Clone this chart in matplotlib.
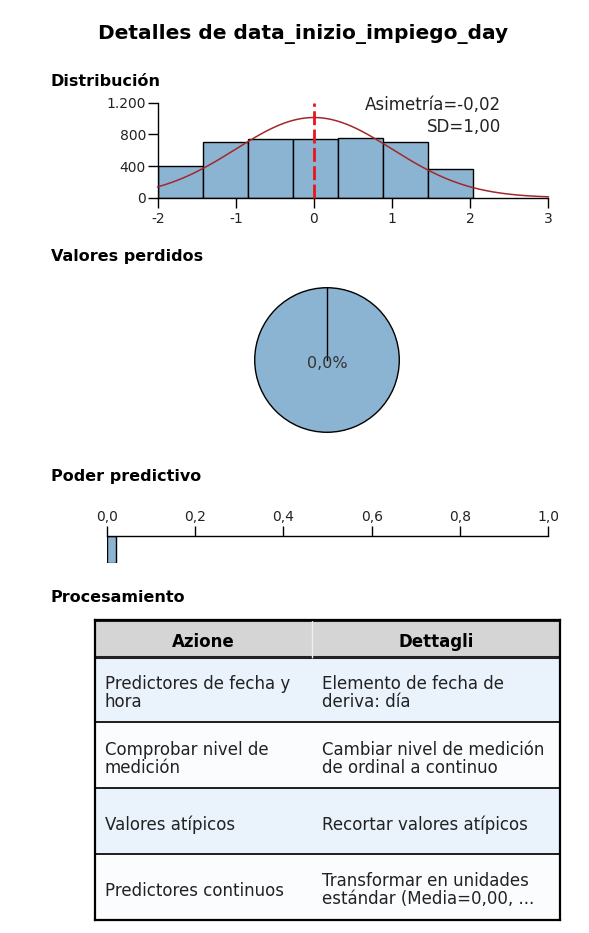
import numpy as np
import matplotlib
matplotlib.use("Agg")
import matplotlib.pyplot as plt
from matplotlib.transforms import Affine2D

# ---------------- data ----------------
title = "Detalles de data_inizio_impiego_day"

bin_edges = [-2.0, -1.423, -0.846, -0.269, 0.308, 0.885, 1.462, 2.039]
bin_counts = [400, 699, 737, 737, 758, 703, 366]
mean_val = 0.0
sd_val = 1.0
skew_text = "Asimetría=-0,02"
sd_text = "SD=1,00"
hist_xticks = [-2, -1, 0, 1, 2, 3]
hist_yticks = [0, 400, 800, 1200]
hist_yticklabels = ["0", "400", "800", "1.200"]

missing_values = [0.0, 100.0]
missing_label = "0,0%"

pred_power = 0.02
pred_ticks = [0.0, 0.2, 0.4, 0.6, 0.8, 1.0]
pred_ticklabels = ["0,0", "0,2", "0,4", "0,6", "0,8", "1,0"]

table_cols = ["Azione", "Dettagli"]
table_actions = ["Predictores de fecha y\nhora", "Comprobar nivel de\nmedición",
                 "Valores atípicos", "Predictores continuos"]
table_details = ["Elemento de fecha de\nderiva: día", "Cambiar nivel de medición\nde ordinal a continuo",
                 "Recortar valores atípicos", "Transformar en unidades\nestándar (Media=0,00, ..."]

# ---------------- layout helpers ----------------
W, H = 589, 933
plt.rcParams["font.family"] = ["DejaVu Sans"]
fig = plt.figure(figsize=(W / 100, H / 100), dpi=100)
fig.patch.set_facecolor("white")


def rect(x0, y0, x1, y1):
    return [x0 / W, 1 - y1 / H, (x1 - x0) / W, (y1 - y0) / H]


def ftext(x, y, s, **kw):
    fig.text(x / W, 1 - y / H, s, **kw)


BAR = "#8ab4d1"
TXT = "#222222"

ftext(303, 34, title, ha="center", va="center", fontsize=14.5, fontweight="bold")
for label, yy in [("Distribución", 82), ("Valores perdidos", 257),
                  ("Poder predictivo", 477), ("Procesamiento", 598)]:
    ftext(51, yy, label, ha="left", va="center", fontsize=11.5, fontweight="bold")

# ---------------- histogram ----------------
ax = fig.add_axes(rect(157.7, 102.7, 548.3, 197.7))
edges = np.array(bin_edges)
widths = np.diff(edges)
ax.bar(edges[:-1], bin_counts, width=widths, align="edge", color=BAR,
       edgecolor="black", linewidth=1.0, zorder=2)
xs = np.linspace(-2, 3, 400)
scale = sum(bin_counts) * widths.mean()
ys = scale * np.exp(-0.5 * ((xs - mean_val) / sd_val) ** 2) / (sd_val * np.sqrt(2 * np.pi))
ax.plot(xs, ys, color="#a3272b", lw=1.1, zorder=3, clip_on=False)
ax.plot([mean_val, mean_val], [0, hist_yticks[-1]], color="#e8161c", lw=2.0,
        ls=(0, (5, 1.6)), zorder=4, clip_on=False)
ax.set_xlim(-2, 3)
ax.set_ylim(0, 1200)
ax.set_xticks(hist_xticks)
ax.set_xticklabels([str(t) for t in hist_xticks])
ax.set_yticks(hist_yticks)
ax.set_yticklabels(hist_yticklabels)
for s in ["top", "right"]:
    ax.spines[s].set_visible(False)
for s in ["left", "bottom"]:
    ax.spines[s].set_linewidth(1.0)
ax.tick_params(axis="both", direction="out", length=7.5, width=1.0, labelsize=10,
               pad=1, labelcolor=TXT)
ax.tick_params(axis="x", pad=3)
ax.patch.set_alpha(0)
ftext(501, 105, skew_text, ha="right", va="center", fontsize=12, color=TXT)
ftext(501, 127, sd_text, ha="right", va="center", fontsize=12, color=TXT)

# ---------------- pie ----------------
axp = fig.add_axes(rect(254, 287, 400, 433))
start = 90
axp.pie(missing_values, colors=[BAR, BAR], startangle=start, counterclock=False,
        wedgeprops=dict(edgecolor="black", linewidth=1.0))
ang = np.deg2rad(start - 360 * missing_values[0] / sum(missing_values))
axp.plot([0, np.cos(ang)], [0, np.sin(ang)], color="black", lw=1.0)
axp.set_xlim(-1.01, 1.01)
axp.set_ylim(-1.01, 1.01)
axp.text(0, -0.05, missing_label, ha="center", va="center", fontsize=11.5, color="#333333")

# ---------------- predictive power ----------------
axb = fig.add_axes(rect(106.7, 536, 548.3, 563))
axb.barh(0, pred_power, height=1, left=0, align="edge", color=BAR,
         edgecolor="black", linewidth=1.0)
axb.set_xlim(0, 1)
axb.set_ylim(1, 0)
axb.set_yticks([])
for s in ["bottom", "left", "right"]:
    axb.spines[s].set_visible(False)
axb.spines["top"].set_linewidth(1.0)
axb.xaxis.tick_top()
axb.set_xticks(pred_ticks)
axb.set_xticklabels(pred_ticklabels)
axb.tick_params(axis="x", direction="out", length=7.5, width=1.0, labelsize=10,
                pad=1, labelcolor=TXT)
axb.patch.set_alpha(0)

# ---------------- table ----------------
axt = fig.add_axes(rect(94.7, 619.7, 560, 920))
axt.set_xticks([])
axt.set_yticks([])
for s in axt.spines.values():
    s.set_linewidth(1.6)
    s.set_zorder(15)
col_w = [217.0, 248.3]
total_w = sum(col_w)
row_h = [37.0, 65.6, 66.0, 65.7, 66.0]
row_bg = ["#d5d5d5", "#eaf2fb", "#fbfcfe", "#eaf2fb", "#fbfcfe"]
axt.set_xlim(0, 1)
axt.set_ylim(sum(row_h), 0)
cum = np.concatenate([[0], np.cumsum(row_h)])
for i, bg in enumerate(row_bg):
    axt.axhspan(cum[i], cum[i + 1], color=bg, lw=0, zorder=0)
rows = [[a, d] for a, d in zip(table_actions, table_details)]
tbl = axt.table(cellText=rows, colLabels=table_cols, cellLoc="left", colLoc="center",
                bbox=[0, 0, 1, 1], colWidths=[w / total_w for w in col_w])
tbl.auto_set_font_size(False)
tbl.set_fontsize(12)
for (r, c), cell in tbl.get_celld().items():
    cell.set_height(row_h[r])
    cell.set_facecolor("none")
    cell.visible_edges = "horizontal"
    cell.set_edgecolor("#222222")
    cell.set_linewidth(1.4 if r > 0 else 2.2)
    cell.PAD = 10.0 / col_w[c]
    t = cell.get_text()
    t.set_color(TXT)
    t.set_transform(Affine2D().translate(0, -3.5))
    if r == 0:
        t.set_fontweight("bold")
        t.set_fontsize(12)
        t.set_color("black")
    else:
        t.set_linespacing(1.0)
axt.axvline(col_w[0] / total_w, ymin=1 - row_h[0] / sum(row_h), ymax=1,
            color="#eeeeee", lw=1.0, zorder=4)

fig.savefig("out.png", dpi=100, facecolor="white")
